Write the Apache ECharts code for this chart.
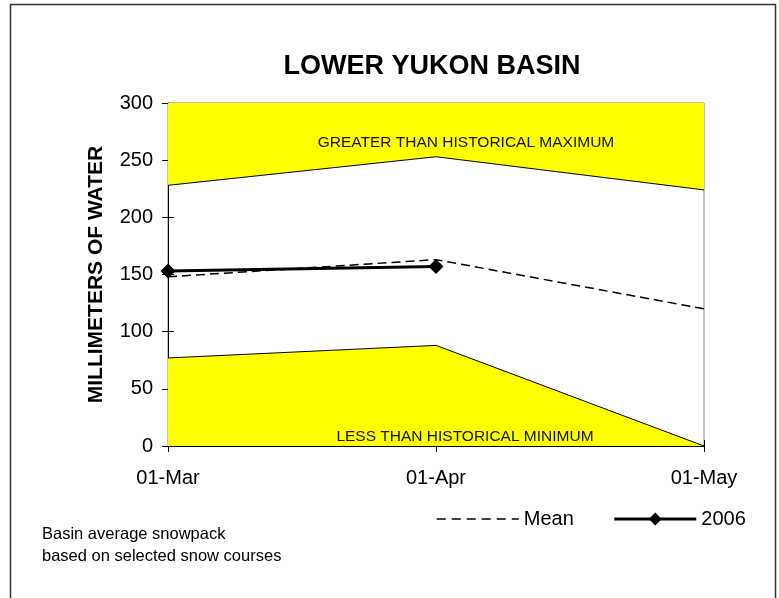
<!DOCTYPE html>
<html>
<head>
<meta charset="utf-8">
<script src="https://cdn.jsdelivr.net/npm/echarts@6/dist/echarts.min.js"></script>
<style>
html,body{margin:0;padding:0;background:#fff;}
#c{width:779px;height:598px;}
</style>
</head>
<body>
<div id="c"></div>
<script>
const categories = ['01-Mar', '01-Apr', '01-May'];
const maxValues = [228, 253, 224];
const minValues = [77, 88, 0];
const meanValues = [148, 163, 120];
const y2006Values = [153, 157, null];
const yTicks = [0, 50, 100, 150, 200, 250, 300];

const FONT = '"Liberation Sans", Arial, sans-serif';
const chart = echarts.init(document.getElementById('c'));
chart.setOption({
  animation: false,
  backgroundColor: '#fff',
  textStyle: { fontFamily: FONT, color: '#000' },
  title: {
    text: 'LOWER YUKON BASIN',
    left: 427, top: 48, textAlign: 'center',
    textStyle: { fontFamily: FONT, fontSize: 27, fontWeight: 'bold', color: '#000' }
  },
  grid: { left: 168, right: 75, top: 103, bottom: 152, show: true, borderColor: '#808080', borderWidth: 1, backgroundColor: 'transparent' },
  legend: {
    data: [
      { name: 'Mean', itemStyle: { opacity: 0 }, lineStyle: { width: 1.5, type: [9, 6] } },
      { name: '2006', lineStyle: { width: 3 } }
    ],
    left: 436, top: 509,
    itemWidth: 82, itemHeight: 16, itemGap: 39,
    textStyle: { fontFamily: FONT, fontSize: 20, color: '#000', padding: [0, 0, 0, 0] },
    padding: 0
  },
  xAxis: [{
    type: 'category', data: categories, boundaryGap: false,
    axisLine: { lineStyle: { color: '#000', width: 1 } },
    axisTick: { show: true, length: 6, inside: false, lineStyle: { color: '#000' } },
    axisLabel: { fontFamily: FONT, fontSize: 20, color: '#000', margin: 22 },
    splitLine: { show: false }
  }, {
    type: 'category', data: categories, boundaryGap: false, position: 'bottom',
    axisLine: { show: false },
    axisTick: { show: true, length: 6, inside: true, lineStyle: { color: '#000' } },
    axisLabel: { show: false }, splitLine: { show: false }
  }],
  yAxis: [{
    type: 'value', min: 0, max: 300, interval: 50,
    name: 'MILLIMETERS OF WATER', nameLocation: 'middle', nameGap: 61,
    nameTextStyle: { fontFamily: FONT, fontSize: 21, fontWeight: 'bold', color: '#000' },
    axisLine: { show: true, lineStyle: { color: '#000', width: 1 } },
    axisTick: { show: true, length: 6, lineStyle: { color: '#000' } },
    axisLabel: { fontFamily: FONT, fontSize: 20, color: '#000', margin: 15,
      formatter: v => yTicks.includes(v) ? String(v) : '' },
    splitLine: { show: false }
  }, {
    type: 'value', min: 0, max: 300, interval: 50, position: 'left',
    axisLine: { show: false },
    axisTick: { show: true, length: 6, inside: true, lineStyle: { color: '#000' } },
    axisLabel: { show: false }, splitLine: { show: false }
  }],
  series: [
    {
      name: 'Max', type: 'line', data: maxValues, symbol: 'none', silent: true,
      lineStyle: { color: '#000', width: 1 },
      areaStyle: { color: '#ffff00', opacity: 1, origin: 'end' },
      z: 1
    },
    {
      name: 'Min', type: 'line', data: minValues, symbol: 'none', silent: true,
      lineStyle: { color: '#000', width: 1 },
      areaStyle: { color: '#ffff00', opacity: 1, origin: 'start' },
      z: 1
    },
    {
      name: 'Mean', type: 'line', data: meanValues, symbol: 'none',
      lineStyle: { color: '#000', width: 1.5, type: [9, 5] },
      itemStyle: { color: '#000' },
      z: 3
    },
    {
      name: '2006', type: 'line', data: y2006Values, symbol: 'diamond', symbolSize: 15,
      lineStyle: { color: '#000', width: 3 },
      itemStyle: { color: '#000' },
      z: 4
    }
  ],
  graphic: [
    { type: 'rect', shape: { x: 10.5, y: 4.5, width: 765, height: 600 }, style: { fill: 'none', stroke: '#333', lineWidth: 1.5 }, z: 100 },
    { type: 'text', style: { text: 'GREATER THAN HISTORICAL MAXIMUM', x: 466, y: 143, align: 'center', verticalAlign: 'middle', font: '15.5px ' + FONT, fill: '#111' }, z: 50 },
    { type: 'text', style: { text: 'LESS THAN HISTORICAL MINIMUM', x: 465, y: 437, align: 'center', verticalAlign: 'middle', font: '15.5px ' + FONT, fill: '#111' }, z: 50 },
    { type: 'text', style: { text: 'Basin average snowpack\nbased on selected snow courses', x: 42, y: 523, lineHeight: 22, font: '16.5px ' + FONT, fill: '#000' }, z: 50 }
  ]
});
</script>
</body>
</html>
